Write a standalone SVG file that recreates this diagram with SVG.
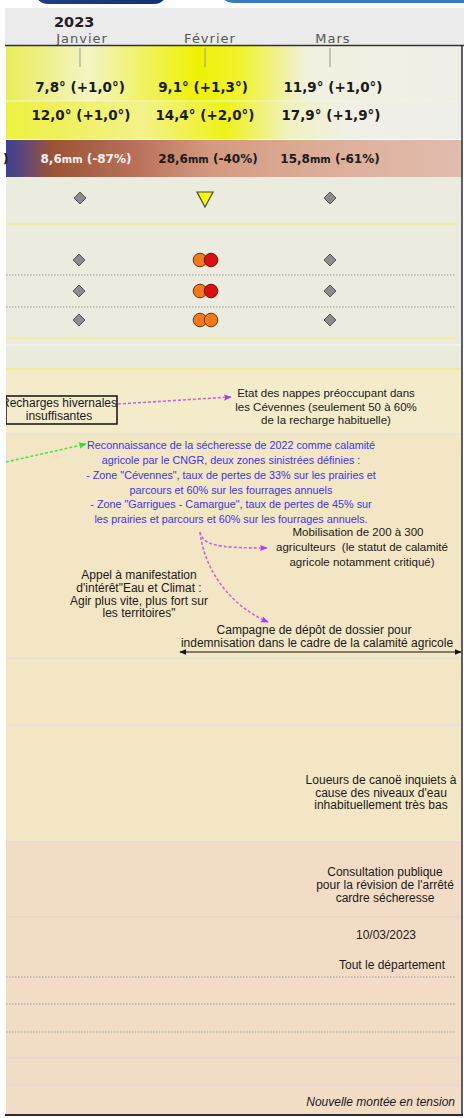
<svg xmlns="http://www.w3.org/2000/svg" width="464" height="1118" viewBox="0 0 464 1118">
<style>
.mon{font-family:"DejaVu Sans",sans-serif;font-size:13px;fill:#555;letter-spacing:1px;text-anchor:middle}
.tmp{font-family:"DejaVu Sans",sans-serif;font-weight:bold;font-size:13.5px;fill:#1a1a1a;text-anchor:middle}
.rain{font-family:"DejaVu Sans",sans-serif;font-weight:bold;font-size:12px;fill:#1a1a1a;text-anchor:middle}
.mm{font-size:10px}
.t{font-family:"Liberation Sans",Arial,sans-serif;font-size:12px;fill:#1a1a1a;text-anchor:middle}
.s{font-size:11.5px}
.blue{fill:#3a36e0;font-size:10.8px}
.dia{fill:#8c8c8c;stroke:#555;stroke-width:1}
.dot{stroke:#9a9a94;stroke-width:1;stroke-dasharray:1.5 1.5}
.sep{stroke-width:2;fill:none}
.org{fill:#f07a1c;stroke:#6a3010;stroke-width:1}
.red{fill:#dc1010;stroke:#6a1010;stroke-width:1}
.pd{fill:none;stroke:#c468d8;stroke-width:1.6;stroke-dasharray:3 2}
</style>
<defs>
<linearGradient id="g1" x1="0" x2="1" y1="0" y2="0">
<stop offset="0" stop-color="#e9ee58"/><stop offset="0.18" stop-color="#f3f4c4"/><stop offset="0.42" stop-color="#eef200"/><stop offset="0.52" stop-color="#f0f232"/><stop offset="0.66" stop-color="#f1f1e0"/><stop offset="1" stop-color="#efefe8"/>
</linearGradient>
<linearGradient id="g2" x1="0" x2="1" y1="0" y2="0">
<stop offset="0" stop-color="#eef040"/><stop offset="0.3" stop-color="#f2f28a"/><stop offset="0.48" stop-color="#eef218"/><stop offset="0.62" stop-color="#f1f1c0"/><stop offset="0.75" stop-color="#f0f0e8"/><stop offset="1" stop-color="#efefe9"/>
</linearGradient>
<linearGradient id="g3" x1="0" x2="1" y1="0" y2="0">
<stop offset="0" stop-color="#3a4292"/><stop offset="0.05" stop-color="#6a4a70"/><stop offset="0.1" stop-color="#9a5434"/><stop offset="0.28" stop-color="#b87058"/><stop offset="0.45" stop-color="#d49a80"/><stop offset="0.7" stop-color="#dcae98"/><stop offset="1" stop-color="#e2bcae"/>
</linearGradient>
<linearGradient id="nav" x1="0" x2="1" y1="0" y2="0">
<stop offset="0" stop-color="#203f86"/><stop offset="1" stop-color="#16306c"/>
</linearGradient>
<linearGradient id="blu" x1="0" x2="0" y1="0" y2="1">
<stop offset="0" stop-color="#2c68b4"/><stop offset="1" stop-color="#3a7cc4"/>
</linearGradient>
<marker id="mp" viewBox="0 0 10 10" refX="9" refY="5" markerWidth="5" markerHeight="5" orient="auto" markerUnits="strokeWidth"><path d="M0,1 L10,5 L0,9 L2,5 z" fill="#a040f0"/></marker>
<marker id="mg" viewBox="0 0 10 10" refX="9" refY="5" markerWidth="5" markerHeight="5" orient="auto" markerUnits="strokeWidth"><path d="M0,1 L10,5 L0,9 L2,5 z" fill="#30e030"/></marker>
<marker id="mk" viewBox="0 0 10 10" refX="9" refY="5" markerWidth="7" markerHeight="7" orient="auto-start-reverse" markerUnits="strokeWidth"><path d="M0,1 L10,5 L0,9 z" fill="#111"/></marker>
<clipPath id="clipL"><rect x="6" y="0" width="458" height="1118"/></clipPath>
</defs>
<rect width="464" height="1118" fill="#ffffff"/>
<g id="header">
<rect x="35" y="-20" width="132" height="24" rx="13" fill="url(#nav)"/>
<rect x="220" y="-20" width="260" height="23" rx="13" fill="url(#blu)"/>
<rect x="5" y="8" width="459" height="37" fill="#ebebeb"/>
<text x="54" y="27" font-family="DejaVu Sans,sans-serif" font-weight="bold" font-size="14.5" fill="#222">2023</text>
<text class="mon" x="82" y="43">Janvier</text>
<text class="mon" x="210" y="43">Février</text>
<text class="mon" x="333" y="43">Mars</text>
</g>
<g id="bands">
<rect x="6" y="46" width="456" height="55" fill="url(#g1)"/>
<rect x="6" y="101" width="456" height="38" fill="url(#g2)"/>
<line x1="6" y1="101" x2="462" y2="101" stroke="#f4f4dc" stroke-width="1"/>
<rect x="6" y="140" width="456" height="37" fill="url(#g3)"/>
<rect x="6" y="177" width="456" height="160" fill="#ecebdf"/>
<rect x="6" y="337" width="456" height="32" fill="#ebeadf"/>
<line class="sep" x1="6" y1="345" x2="462" y2="345" stroke="#f2f2e6"/>
<rect x="6" y="369" width="456" height="65" fill="#f4ebcb"/>
<rect x="6" y="434" width="456" height="409" fill="#f3e6c4"/>
<rect x="6" y="843" width="456" height="272" fill="#f3dcc5"/>
<line class="sep" x1="6" y1="224" x2="456" y2="224" stroke="#f0f09c" stroke-width="2.5"/>
<line class="sep" x1="6" y1="338" x2="456" y2="338" stroke="#f0f09c" stroke-width="2.5"/>
<line class="sep" x1="6" y1="369" x2="462" y2="369" stroke="#efe8a0"/>
<line class="sep" x1="6" y1="434" x2="462" y2="434" stroke="#ebe3d4"/>
<line class="sep" x1="6" y1="658" x2="462" y2="658" stroke="#ebe2d6"/>
<line class="sep" x1="6" y1="725" x2="462" y2="725" stroke="#ebe2d6"/>
<line class="sep" x1="6" y1="842" x2="462" y2="842" stroke="#e9dcce"/>
<line class="sep" x1="6" y1="917" x2="462" y2="917" stroke="#eed6c8"/>
<line class="dot" x1="6" y1="275" x2="455" y2="275"/>
<line class="dot" x1="6" y1="307" x2="455" y2="307"/>
<line class="dot" x1="6" y1="977" x2="456" y2="977"/>
<line class="dot" x1="6" y1="1004" x2="456" y2="1004"/>
<line class="dot" x1="6" y1="1032" x2="456" y2="1032"/>
<line class="sep" x1="6" y1="1058" x2="462" y2="1058" stroke="#eed8d0"/>
<line class="sep" x1="6" y1="1085" x2="462" y2="1085" stroke="#eed8d0"/>
<line x1="5" y1="45.5" x2="464" y2="45.5" stroke="#333" stroke-width="1.5"/>
<line x1="462" y1="45" x2="462" y2="1116" stroke="#2a2a3a" stroke-width="1.5"/>
<line x1="5" y1="1115" x2="463" y2="1115" stroke="#2a2a3a" stroke-width="2"/>
<line x1="80" y1="48" x2="80" y2="67" stroke="#999" stroke-width="1"/>
<line x1="205" y1="48" x2="205" y2="67" stroke="#999" stroke-width="1"/>
<line x1="330" y1="48" x2="330" y2="67" stroke="#999" stroke-width="1"/>
</g>
<g id="temp-min">
<text class="tmp" x="80" y="92">7,8° (+1,0°)</text>
<text class="tmp" x="203" y="92">9,1° (+1,3°)</text>
<text class="tmp" x="333" y="92">11,9° (+1,0°)</text>
</g>
<g id="temp-max">
<text class="tmp" x="81" y="120">12,0° (+1,0°)</text>
<text class="tmp" x="205" y="120">14,4° (+2,0°)</text>
<text class="tmp" x="331" y="120">17,9° (+1,9°)</text>
</g>
<g id="rain">
<text class="rain" x="3" y="163" style="text-anchor:start">)</text>
<text class="rain" x="86" y="163" style="fill:#f4f0f0">8,6<tspan class="mm">mm</tspan> (-87%)</text>
<text class="rain" x="208" y="163">28,6<tspan class="mm">mm</tspan> (-40%)</text>
<text class="rain" x="330" y="163">15,8<tspan class="mm">mm</tspan> (-61%)</text>
</g>
<g id="indicator-row">
<path class="dia" d="M80,192 L86,198 L80,204 L74,198 z"/>
<path d="M197,192 L213,192 L205,207 z" fill="#f8f800" stroke="#444" stroke-width="1.2"/>
<path class="dia" d="M330,192 L336,198 L330,204 L324,198 z"/>
</g>
<g id="levels">
<path class="dia" d="M79,254 L85,260 L79,266 L73,260 z"/>
<path class="dia" d="M79,285 L85,291 L79,297 L73,291 z"/>
<path class="dia" d="M79,314 L85,320 L79,326 L73,320 z"/>
<path class="dia" d="M330,254 L336,260 L330,266 L324,260 z"/>
<path class="dia" d="M330,285 L336,291 L330,297 L324,291 z"/>
<path class="dia" d="M330,314 L336,320 L330,326 L324,320 z"/>
<circle class="org" cx="200" cy="260" r="6.8"/><circle class="red" cx="211" cy="260" r="6.8"/>
<circle class="org" cx="200" cy="291" r="6.8"/><circle class="red" cx="211" cy="291" r="6.8"/>
<circle class="org" cx="200" cy="320" r="6.8"/><circle class="org" cx="211" cy="320" r="6.8"/>
</g>
<g id="recharges" clip-path="url(#clipL)">
<rect x="6" y="396" width="111" height="28" fill="none" stroke="#111" stroke-width="1.5"/>
<text class="t" x="59" y="407">Recharges hivernales</text>
<text class="t" x="59" y="420">insuffisantes</text>
</g>
<g id="nappes">
<text class="t s" x="326" y="397">Etat des nappes préoccupant dans</text>
<text class="t s" x="326" y="411">les Cévennes (seulement 50 à 60%</text>
<text class="t s" x="326" y="424">de la recharge habituelle)</text>
</g>
<g id="reconnaissance">
<text class="t blue" x="231" y="449">Reconnaissance de la sécheresse de 2022 comme calamité</text>
<text class="t blue" x="231" y="464">agricole par le CNGR, deux zones sinistrées définies :</text>
<text class="t blue" x="231" y="479">- Zone "Cévennes", taux de pertes de 33% sur les prairies et</text>
<text class="t blue" x="231" y="494">parcours et 60% sur les fourrages annuels</text>
<text class="t blue" x="231" y="508">- Zone "Garrigues - Camargue", taux de pertes de 45% sur</text>
<text class="t blue" x="231" y="523">les prairies et parcours et 60% sur les fourrages annuels.</text>
</g>
<g id="mobilisation">
<text class="t s" x="358" y="536">Mobilisation de 200 à 300</text>
<text class="t s" x="362" y="551" xml:space="preserve">agriculteurs  (le statut de calamité</text>
<text class="t s" x="362" y="566">agricole notamment critiqué)</text>
</g>
<g id="appel">
<text class="t" x="139" y="579">Appel à manifestation</text>
<text class="t" x="139" y="592">d'intérêt"Eau et Climat :</text>
<text class="t" x="139" y="605">Agir plus vite, plus fort sur</text>
<text class="t" x="139" y="617">les territoires"</text>
</g>
<g id="campagne">
<text class="t" x="314" y="634">Campagne de dépôt de dossier pour</text>
<text class="t" x="317" y="647">indemnisation dans le cadre de la calamité agricole</text>
</g>
<g id="loueurs">
<text class="t" x="381" y="784">Loueurs de canoë inquiets à</text>
<text class="t" x="381" y="797">cause des niveaux d'eau</text>
<text class="t" x="381" y="809">inhabituellement très bas</text>
</g>
<g id="consultation">
<text class="t" x="385" y="876">Consultation publique</text>
<text class="t" x="385" y="889">pour la révision de l'arrêté</text>
<text class="t" x="385" y="902">cardre sécheresse</text>
</g>
<g id="date">
<text class="t" x="386" y="939">10/03/2023</text>
</g>
<g id="zone">
<text class="t" x="392" y="969">Tout le département</text>
</g>
<g id="tension">
<text class="t" x="455" y="1106" style="text-anchor:end;font-style:italic">Nouvelle montée en tension</text>
</g>
<g id="connectors">
<path class="pd" d="M118,404 L231,397" marker-end="url(#mp)"/>
<path d="M6,462 L86,444" fill="none" stroke="#50e050" stroke-width="1.6" stroke-dasharray="3 2" marker-end="url(#mg)"/>
<path class="pd" d="M200,532 C203,545 215,548 267,548" marker-end="url(#mp)"/>
<path class="pd" d="M200,532 C205,575 235,608 268,622" marker-end="url(#mp)"/>
<path d="M180,652 L461,652" fill="none" stroke="#111" stroke-width="1" marker-start="url(#mk)" marker-end="url(#mk)"/>
</g>
</svg>
